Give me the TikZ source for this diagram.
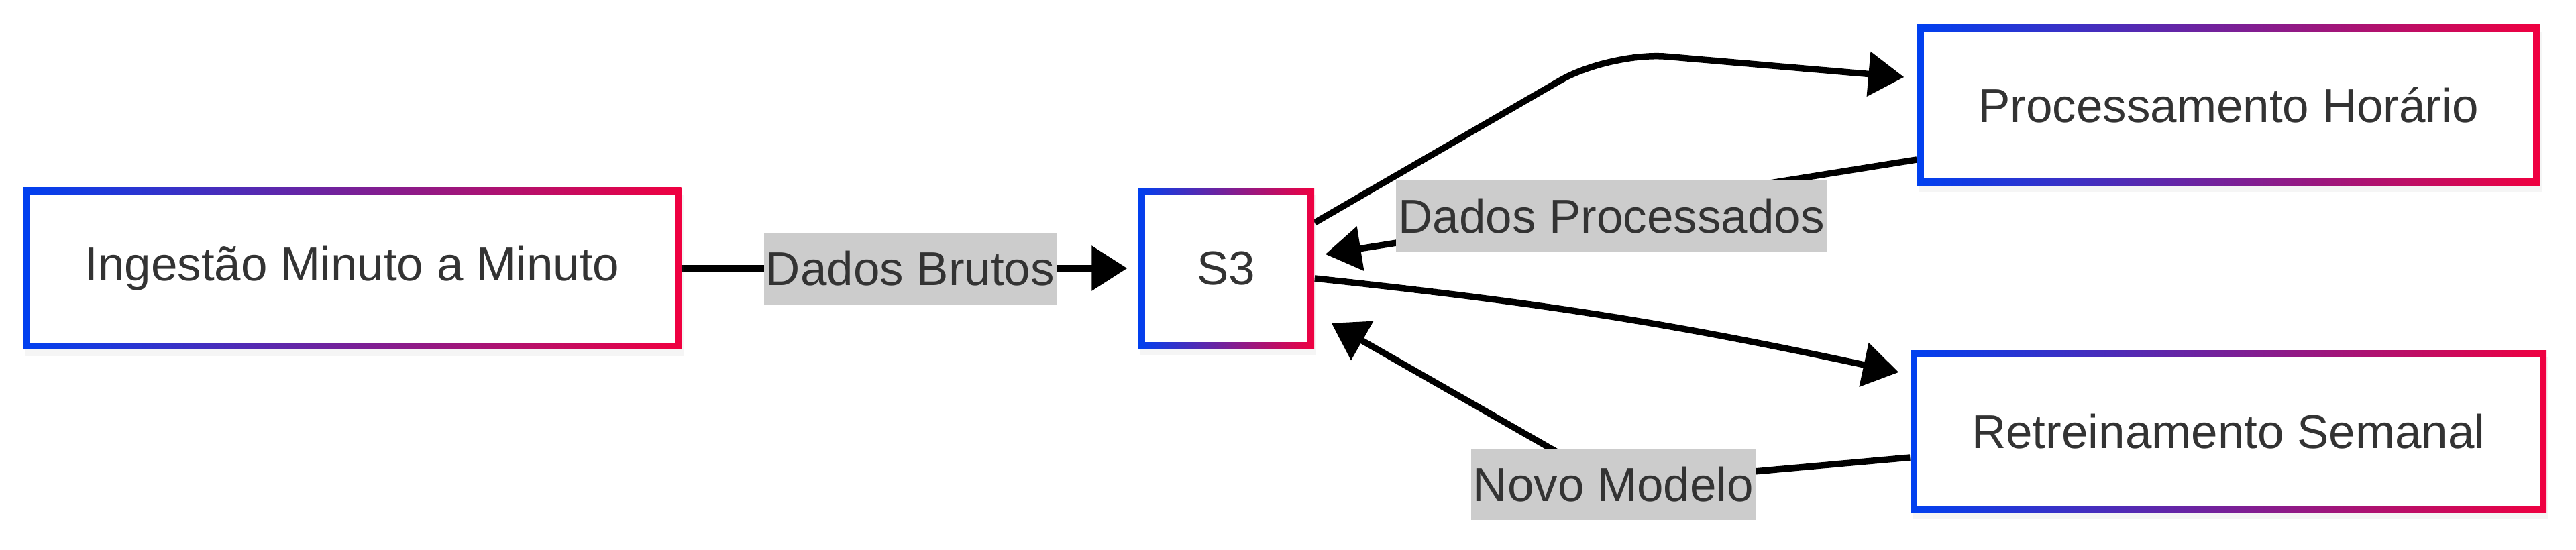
\documentclass[tikz,border=0pt]{standalone}
\usepackage{fontspec}
\setmainfont{Liberation Sans}
\usetikzlibrary{arrows.meta,backgrounds,shadows}
\definecolor{edgeblue}{RGB}{0,64,240}
\definecolor{edgered}{RGB}{240,0,64}
\definecolor{textgrey}{RGB}{51,51,51}
\definecolor{labelgrey}{RGB}{204,204,204}
\newcommand{\diagfont}{\fontsize{20.2pt}{24pt}\selectfont}
\tikzset{
  flow/.style={-{Triangle[length=0.53cm,width=0.65cm]},black,line width=0.095cm},
  stagebox/.style={rectangle,fill=white,inner sep=0pt,font=\diagfont,text=textgrey,
    drop shadow={opacity=0.08,shadow xshift=0.03cm,shadow yshift=-0.1cm},
    path picture={
      \shade[left color=edgeblue,right color=edgered]
        (path picture bounding box.south west) rectangle (path picture bounding box.north east);
      \fill[white]
        ([shift={(0.1,0.1)}]path picture bounding box.south west)
        rectangle ([shift={(-0.1,-0.1)}]path picture bounding box.north east);
    }},
  edgelabel/.style={fill=labelgrey,text=textgrey,font=\diagfont,inner xsep=0.03cm,
    minimum height=1.07cm},
}

\begin{document}
\begin{tikzpicture}[x=1cm,y=1cm]
  \path[use as bounding box] (0,0) rectangle (38.4,8.19);

  % stages
  \node[stagebox,minimum width=9.81cm,minimum height=2.41cm] (ingest) at (5.25,4.19)
    {Ingestão Minuto a Minuto};
  \node[stagebox,minimum width=2.62cm,minimum height=2.40cm] (s3) at (18.28,4.19) {S3};
  \node[stagebox,minimum width=9.28cm,minimum height=2.39cm] (proc) at (33.22,6.625)
    {Processamento Horário};
  \node[stagebox,minimum width=9.48cm,minimum height=2.42cm] (retr) at (33.22,1.76)
    {Retreinamento Semanal};

  % edge labels
  \node[edgelabel] (brutos) at (13.57,4.19) {Dados Brutos};
  \node[edgelabel] (processados) at (24.02,4.97) {Dados Processados};
  \node[edgelabel] (modelo) at (24.05,0.97) {Novo Modelo};

  \coordinate (bendtop) at (24.0,7.42);

  \begin{scope}[on background layer]
    \draw[flow] (ingest.east) -- ([xshift=-0.16cm]s3.west);
    \draw[flow,rounded corners=0.85cm] ([yshift=0.68cm]s3.east) -- (bendtop)
      -- ([xshift=-0.19cm,yshift=0.415cm]proc.west);
    \draw[flow] ([yshift=-0.815cm]proc.west) -- ([xshift=0.16cm,yshift=0.21cm]s3.east);
    \draw[flow] ([yshift=-0.15cm]s3.east) to[bend left=3]
      ([xshift=-0.17cm,yshift=0.88cm]retr.west);
    \draw[flow] ([yshift=-0.39cm]retr.west) -- (modelo.center)
      -- ([xshift=0.25cm,yshift=0.39cm]s3.south east);
  \end{scope}
\end{tikzpicture}
\end{document}
